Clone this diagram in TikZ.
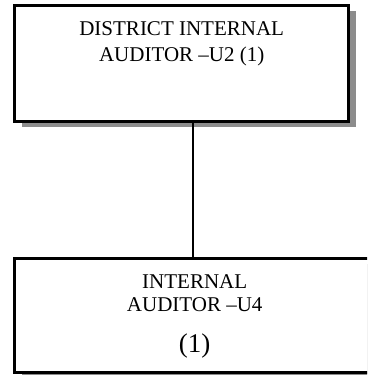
\documentclass[tikz,border=0pt]{standalone}
\usepackage{fontspec}
\setmainfont{Liberation Serif}
\usetikzlibrary{shadows}
\begin{document}
\begin{tikzpicture}[x=1pt,y=1pt,
  box/.style={draw=black,line width=3pt,fill=white,inner sep=0pt,
    drop shadow={shadow xshift=7pt,shadow yshift=-5.5pt,fill=gray!90,opacity=1}},
  txt/.style={anchor=base,inner sep=0pt,font=\fontsize{21}{25}\selectfont},
  big/.style={anchor=base,inner sep=0pt,font=\fontsize{27}{32}\selectfont},
  link/.style={draw=black,line width=2.5pt}]
\useasboundingbox (0,0) rectangle (367,375);
\begin{scope}
\clip (0,0) rectangle (367,375);
\node[box,minimum width=334pt,minimum height=115.7pt] (top) at (181.5,311.35) {};
\node[box,minimum width=361pt,minimum height=114pt] (bot) at (195,59.5) {};
\draw[link] ([xshift=-2pt]bot.north) -- ([xshift=-2pt]bot.north |- top.south);
\node[txt] (t1) at (181.7,339) {DISTRICT INTERNAL};
\node[txt] (t2) at (181.7,313) {AUDITOR –U2 (1)};
\node[txt] (b1) at (194.7,86) {INTERNAL};
\node[txt] (b2) at (194.7,63) {AUDITOR –U4};
\node[big] (b3) at (194.7,22) {(1)};
\end{scope}
\end{tikzpicture}
\end{document}
